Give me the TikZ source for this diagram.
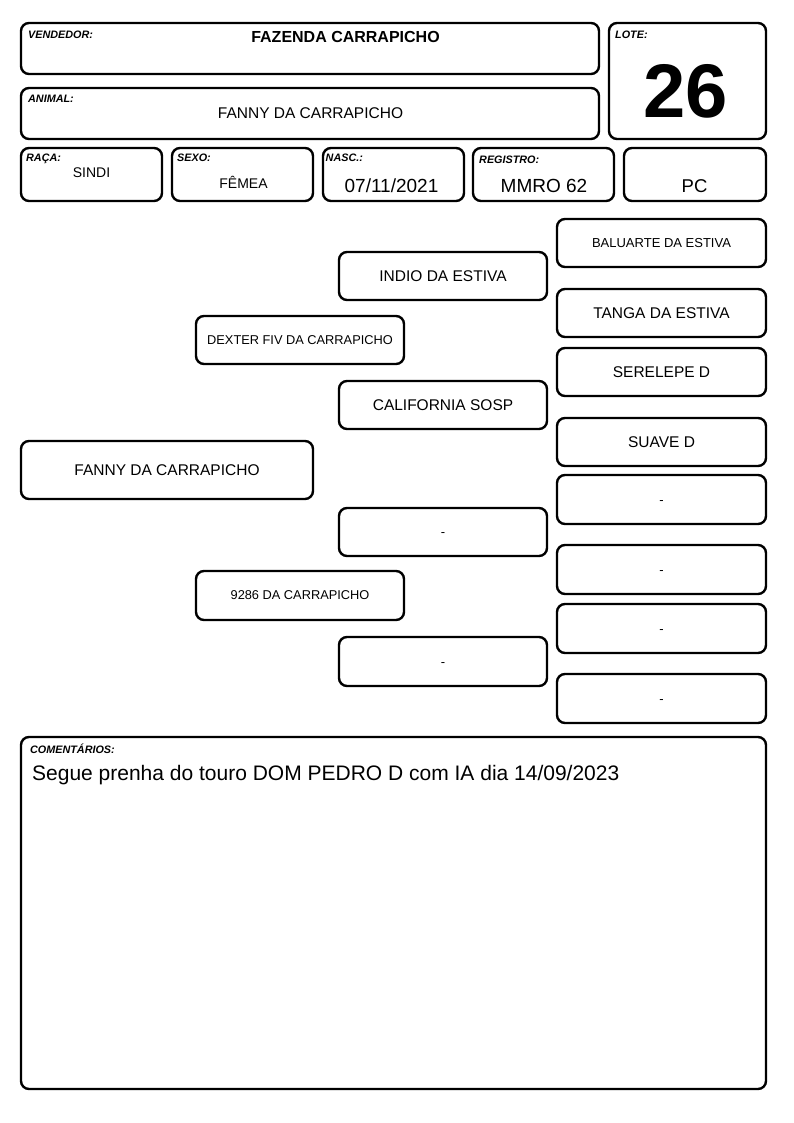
\documentclass[tikz,border=0pt]{standalone}
\usepackage{fontspec}
\setmainfont{Liberation Sans}
\newcommand\mybox[7]{\node[box, minimum width={#4-#2}, minimum height={#5-#3}, #6] (#1) at ({(#2+#4)/2},{(#3+#5)/2}) {#7};}
\begin{document}
\begin{tikzpicture}[x=1pt,y=-1pt,
  box/.style={draw, line width=2.4pt, rounded corners=8pt, inner sep=0pt, align=center},
  lab/.style={font=\fontsize{10.8}{12}\selectfont\bfseries\itshape, anchor=base west, inner sep=0pt},
  val/.style={anchor=base, inner sep=0pt},
  ped/.style={font=\fontsize{15.5}{18}\selectfont},
  pedsm/.style={font=\fontsize{13}{15}\selectfont},
  pedxs/.style={font=\fontsize{12.8}{15}\selectfont},
  dashtxt/.style={font=\fontsize{13}{15}\selectfont, text height=9pt, text depth=0pt}]
\useasboundingbox (0,0) rectangle (794,1123);
% header
\mybox{vend}{21}{23}{599}{74}{}{}
\mybox{lote}{609}{23}{766}{139}{}{}
\mybox{anim}{21}{88}{599}{139}{}{}
\mybox{raca}{21}{148}{162}{201}{}{}
\mybox{sexo}{172}{148}{313}{201}{}{}
\mybox{nasc}{323}{148}{464}{201}{}{}
\mybox{reg}{473}{148}{614}{201}{}{}
\mybox{pc}{624}{148}{766}{201}{}{}
\node[lab] (lvend) at (28,39) {VENDEDOR:};
\node[val, font=\fontsize{16}{18}\selectfont\bfseries] (tvend) at (345.5,43) {FAZENDA CARRAPICHO};
\node[lab] (llote) at (615,39) {LOTE:};
\node[val, font=\fontsize{76}{80}\selectfont\bfseries] (tlote) at (686,118) {26};
\node[lab] (lanim) at (28,103) {ANIMAL:};
\node[val, font=\fontsize{15.5}{18}\selectfont] (tanim) at (310.5,119) {FANNY DA CARRAPICHO};
\node[lab] (lraca) at (26,162) {RAÇA:};
\node[val, font=\fontsize{14}{16}\selectfont] (traca) at (91.5,178) {SINDI};
\node[lab] (lsexo) at (177,162) {SEXO:};
\node[val, font=\fontsize{14}{16}\selectfont] (tsexo) at (243.5,189) {FÊMEA};
\node[lab] (lnasc) at (325.5,162) {NASC.:};
\node[val, font=\fontsize{19}{21}\selectfont] (tnasc) at (391.5,193) {07/11/2021};
\node[lab] (lreg) at (479,164) {REGISTRO:};
\node[val, font=\fontsize{19}{21}\selectfont] (treg) at (544,193) {MMRO 62};
\node[val, font=\fontsize{18.5}{21}\selectfont] (tpc) at (694.5,193) {PC};
% pedigree
\mybox{p0}{21}{441}{313}{499}{ped}{FANNY DA CARRAPICHO}
\mybox{p1}{196}{316}{404}{364}{pedxs}{DEXTER FIV DA CARRAPICHO}
\mybox{p2}{196}{571}{404}{620}{pedxs}{9286 DA CARRAPICHO}
\mybox{p11}{339}{252}{547}{300}{ped}{INDIO DA ESTIVA}
\mybox{p12}{339}{381}{547}{429}{ped}{CALIFORNIA SOSP}
\mybox{p21}{339}{508}{547}{556}{dashtxt}{-}
\mybox{p22}{339}{637}{547}{686}{dashtxt}{-}
\mybox{p111}{557}{219}{766}{267}{pedsm}{BALUARTE DA ESTIVA}
\mybox{p112}{557}{289}{766}{337}{ped}{TANGA DA ESTIVA}
\mybox{p121}{557}{348}{766}{396}{ped}{SERELEPE D}
\mybox{p122}{557}{418}{766}{466}{ped}{SUAVE D}
\mybox{p211}{557}{475}{766}{524}{dashtxt}{-}
\mybox{p212}{557}{545}{766}{594}{dashtxt}{-}
\mybox{p221}{557}{604}{766}{653}{dashtxt}{-}
\mybox{p222}{557}{674}{766}{723}{dashtxt}{-}
% comments
\mybox{com}{21}{737}{766}{1089}{}{}
\node[lab] (lcom) at (30,753) {COMENTÁRIOS:};
\node[anchor=base west, inner sep=0pt, font=\fontsize{21}{24}\selectfont] (tcom) at (32,780) {Segue prenha do touro DOM PEDRO D com IA dia 14/09/2023};
\end{tikzpicture}
\end{document}
